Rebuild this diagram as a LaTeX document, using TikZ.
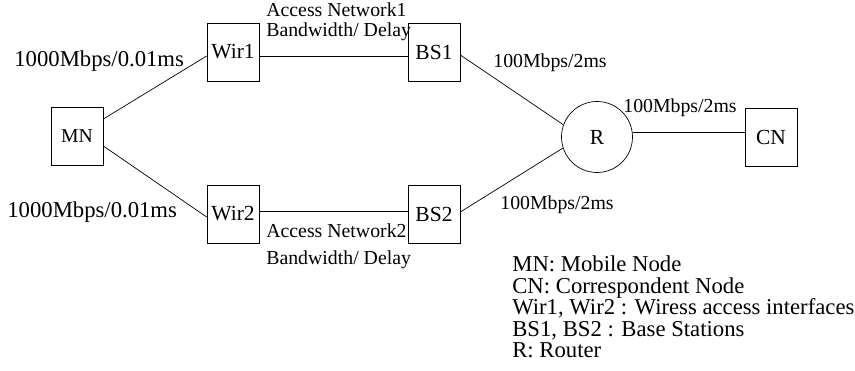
\documentclass[tikz,border=0pt]{standalone}
\usepackage{fontspec}
\setmainfont{Liberation Serif}
\begin{document}
\begin{tikzpicture}[x=1pt,y=-1pt,
  line width=0.7pt,
  box/.style={draw, minimum width=52pt, minimum height=58pt, inner sep=0pt,
    font=\fontsize{21.5}{22}\selectfont},
  router/.style={draw, circle, minimum size=71pt, inner sep=0pt,
    font=\fontsize{21.5}{22}\selectfont},
  biglbl/.style={anchor=base west, inner sep=0pt, font=\fontsize{22.7}{22}\selectfont},
  lbl/.style={anchor=base west, inner sep=0pt, font=\fontsize{19.8}{20}\selectfont}]
\useasboundingbox (0,0) rectangle (855,371);

% network elements
\node[box, font=\fontsize{19.7}{20}\selectfont] (MN) at (77,136) {MN};
\node[box] (Wir1) at (233,52) {Wir1};
\node[box] (Wir2) at (233,214) {Wir2};
\node[box] (BS1) at (434,52) {BS1};
\node[box] (BS2) at (434,214) {BS2};
\node[router] (R) at (597,137) {R};
\node[box] (CN) at (771,137) {CN};

% links
\draw ([yshift=17pt]MN.east) -- ([yshift=-4pt]Wir1.west);
\draw ([yshift=-10pt]MN.east) -- ([yshift=-3pt]Wir2.west);
\draw ([yshift=-4pt]Wir1.east) -- ([yshift=-4pt]BS1.west);
\draw ([yshift=3pt]Wir2.east) -- ([yshift=3pt]BS2.west);
\draw ([yshift=-3pt]BS1.east) -- (R.160);
\draw ([yshift=2pt]BS2.east) -- (R.198);
\draw (R.7) -- (R.7 -| CN.west);

% link labels
\node[biglbl] (l1) at (14,67) {1000Mbps/0.01ms};
\node[biglbl] (l2) at (7,218) {1000Mbps/0.01ms};
\node[lbl] (a1) at (266,17) {Access Network1};
\node[lbl] (a1b) at (266,37) {Bandwidth/ Delay};
\node[lbl] (a2) at (266,238) {Access Network2};
\node[lbl] (a2b) at (266,265) {Bandwidth/ Delay};
\node[lbl] (r1) at (493,68) {100Mbps/2ms};
\node[lbl] (r2) at (623,113) {100Mbps/2ms};
\node[lbl] (r3) at (500,210) {100Mbps/2ms};

% legend
\node[biglbl] (k1) at (512,272) {MN: Mobile Node};
\node[biglbl] (k2) at (512,293.5) {CN: Correspondent Node};
\node[biglbl] (k3) at (512,315) {Wir1, Wir2 : Wiress access interfaces};
\node[biglbl] (k4) at (512,336.5) {BS1, BS2 : Base Stations};
\node[biglbl] (k5) at (512,358) {R: Router};
\end{tikzpicture}
\end{document}
